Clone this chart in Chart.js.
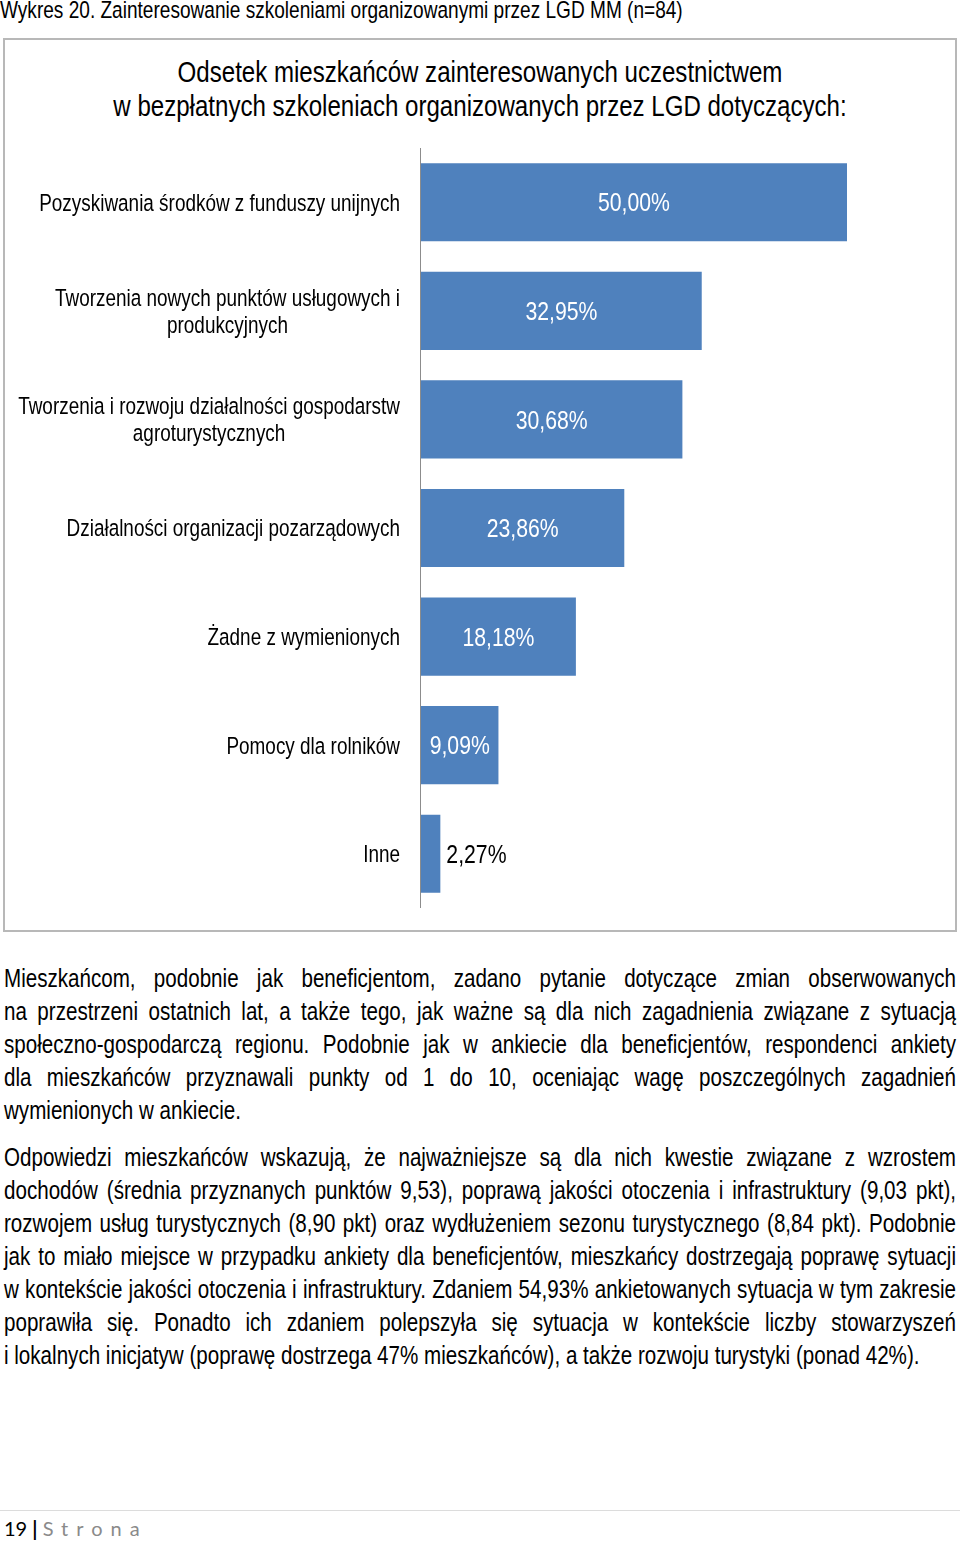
<!DOCTYPE html>
<html>
<head>
<meta charset="utf-8">
<script src="https://cdn.jsdelivr.net/npm/chart.js@4.4.0/dist/chart.umd.min.js"></script>
<style>
  body { margin: 0; background: #fff; }
  #page { position: relative; width: 960px; height: 1541px; overflow: hidden;
          font-family: 'Liberation Sans', Arial, sans-serif; color: #000; }
  .sx { transform-origin: 0 0; white-space: nowrap; }
  #caption { position: absolute; left: 0; top: 0; line-height: 20px; }
  #box { position: absolute; left: 3px; top: 38px; width: 950px; height: 890px; border: 2px solid #b8b8b8; }
  #title { position: absolute; left: 0; top: 55px; }
  #title div { text-align: center; line-height: 34px; }
  #chartWrap { position: absolute; left: 0; top: 140px; width: 960px; height: 780px; }
  .txt { position: absolute; left: 4px; }
  .txt div { line-height: 33px; text-align: justify; text-align-last: justify; }
  .txt div.last { text-align-last: left; }
  #footline { position: absolute; left: 0; top: 1510px; width: 960px; height: 1px; background: #dcdcdc; }
  #footer { position: absolute; left: 4px; top: 1515px; font-family: Lato, 'Open Sans', sans-serif; font-size: 20px; line-height: 26px; white-space: nowrap; }
  #footer span { color: #8a8a8a; letter-spacing: 8px; }
</style>
</head>
<body>
<div id="page">
  <div id="caption" class="sx">Wykres 20. Zainteresowanie szkoleniami organizowanymi przez LGD MM (n=84)</div>
  <div id="box"></div>
  <div id="title">
    <div class="sx">Odsetek mieszkańców zainteresowanych uczestnictwem</div>
    <div class="sx">w bezpłatnych szkoleniach organizowanych przez LGD dotyczących:</div>
  </div>
  <div id="chartWrap"><canvas id="chartCanvas" width="960" height="780"></canvas></div>

  <div class="txt" style="top: 962px;">
    <div class="sx">Mieszkańcom, podobnie jak beneficjentom, zadano pytanie dotyczące zmian obserwowanych</div>
    <div class="sx">na przestrzeni ostatnich lat, a także tego, jak ważne są dla nich zagadnienia związane z sytuacją</div>
    <div class="sx">społeczno-gospodarczą regionu. Podobnie jak w ankiecie dla beneficjentów, respondenci ankiety</div>
    <div class="sx">dla mieszkańców przyznawali punkty od 1 do 10, oceniając wagę poszczególnych zagadnień</div>
    <div class="sx last">wymienionych w ankiecie.</div>
  </div>
  <div class="txt" style="top: 1141px;">
    <div class="sx">Odpowiedzi mieszkańców wskazują, że najważniejsze są dla nich kwestie związane z wzrostem</div>
    <div class="sx">dochodów (średnia przyznanych punktów 9,53), poprawą jakości otoczenia i infrastruktury (9,03 pkt),</div>
    <div class="sx">rozwojem usług turystycznych (8,90 pkt) oraz wydłużeniem sezonu turystycznego (8,84 pkt). Podobnie</div>
    <div class="sx">jak to miało miejsce w przypadku ankiety dla beneficjentów, mieszkańcy dostrzegają poprawę sytuacji</div>
    <div class="sx">w kontekście jakości otoczenia i infrastruktury. Zdaniem 54,93% ankietowanych sytuacja w tym zakresie</div>
    <div class="sx">poprawiła się. Ponadto ich zdaniem polepszyła się sytuacja w kontekście liczby stowarzyszeń</div>
    <div class="sx last" id="lastLine">i lokalnych inicjatyw (poprawę dostrzega 47% mieszkańców), a także rozwoju turystyki (ponad 42%).</div>
  </div>

  <div id="footline"></div>
  <div id="footer">19 <b>|</b> <span>Strona</span></div>
</div>

<script>
var FONT = "'Liberation Sans', Arial, sans-serif";
var SX = 0.82; // zwężenie jak Arial Narrow

// kategorie (linie etykiet)
var categories = [
    ["Pozyskiwania środków z funduszy unijnych"],
    ["Tworzenia nowych punktów usługowych i", "produkcyjnych"],
    ["Tworzenia i rozwoju działalności gospodarstw", "agroturystycznych"],
    ["Działalności organizacji pozarządowych"],
    ["Żadne z wymienionych"],
    ["Pomocy dla rolników"],
    ["Inne"]
];
// odsetek (%)
var values = [50.00, 32.95, 30.68, 23.86, 18.18, 9.09, 2.27];

// rozmiar czcionki tak, by tekst miał szerokość jak w oryginale
var mctx = document.createElement("canvas").getContext("2d");
function fitSize(text, target) {
    mctx.font = "100px " + FONT;
    return 100 * target / (mctx.measureText(text).width * SX);
}

var capSize = fitSize(document.getElementById("caption").textContent, 683);
var titleSize = fitSize("Odsetek mieszkańców zainteresowanych uczestnictwem", 605);
var paraSize = fitSize(document.getElementById("lastLine").textContent, 916);
var labelSize = fitSize("Pozyskiwania środków z funduszy unijnych", 361);
var valueSize = fitSize("50,00%", 72);

var cap = document.getElementById("caption");
cap.style.fontSize = capSize + "px";
cap.style.transform = "scaleX(" + SX + ")";
document.querySelectorAll("#title div").forEach(function (d) {
    d.style.fontSize = titleSize + "px";
    d.style.width = (960 / SX) + "px";
    d.style.transform = "scaleX(" + SX + ")";
});
document.querySelectorAll(".txt div").forEach(function (d) {
    d.style.fontSize = paraSize + "px";
    d.style.width = (952 / SX) + "px";
    d.style.transform = "scaleX(" + SX + ")";
    d.style.height = "33px";
});

function narrowText(ctx, txt, x, y, align) {
    var w = ctx.measureText(txt).width * SX;
    var left = align === "center" ? x - w / 2 : x;
    ctx.save();
    ctx.translate(left, y);
    ctx.scale(SX, 1);
    ctx.textAlign = "left";
    ctx.fillText(txt, 0, 0);
    ctx.restore();
    return w;
}

// etykiety kategorii, wartości i linia osi
var labelPlugin = {
    id: "labelPlugin",
    afterDatasetsDraw: function (chart) {
        var ctx = chart.ctx;
        var area = chart.chartArea;
        var yScale = chart.scales.y;
        ctx.save();

        ctx.strokeStyle = "#8c8c8c";
        ctx.lineWidth = 1;
        ctx.beginPath();
        ctx.moveTo(area.left - 0.5, area.top);
        ctx.lineTo(area.left - 0.5, area.bottom);
        ctx.stroke();

        ctx.font = labelSize + "px " + FONT;
        ctx.fillStyle = "#000";
        ctx.textBaseline = "middle";
        categories.forEach(function (lines, i) {
            var y = yScale.getPixelForValue(i) + 2;
            var w = 0;
            lines.forEach(function (ln) { w = Math.max(w, ctx.measureText(ln).width * SX); });
            var cx = area.left - 21 - w / 2;
            lines.forEach(function (ln, j) {
                narrowText(ctx, ln, cx, y + (j - (lines.length - 1) / 2) * 27, "center");
            });
        });

        var meta = chart.getDatasetMeta(0);
        ctx.font = valueSize + "px " + FONT;
        meta.data.forEach(function (bar, i) {
            var txt = values[i].toFixed(2).replace(".", ",") + "%";
            var w = ctx.measureText(txt).width * SX;
            if (bar.x - bar.base > w + 10) {
                ctx.fillStyle = "#fff";
                narrowText(ctx, txt, (bar.x + bar.base) / 2, bar.y + 2, "center");
            } else {
                ctx.fillStyle = "#000";
                narrowText(ctx, txt, bar.x + 6, bar.y + 2, "left");
            }
        });
        ctx.restore();
    }
};

var ctx = document.getElementById("chartCanvas");
var barChart = new Chart(ctx, {
    type: "bar",
    data: {
        labels: categories,
        datasets: [{
            data: values,
            backgroundColor: "#4f81bd",
            borderWidth: 0,
            categoryPercentage: 0.72,
            barPercentage: 1
        }]
    },
    options: {
        indexAxis: "y",
        responsive: false,
        animation: false,
        layout: { padding: { left: 421, right: 113, top: 8, bottom: 12 } },
        scales: {
            x: { display: false, min: 0, max: 50 },
            y: { display: false }
        },
        plugins: {
            legend: { display: false },
            tooltip: { enabled: false }
        }
    },
    plugins: [labelPlugin]
});
</script>
</body>
</html>
